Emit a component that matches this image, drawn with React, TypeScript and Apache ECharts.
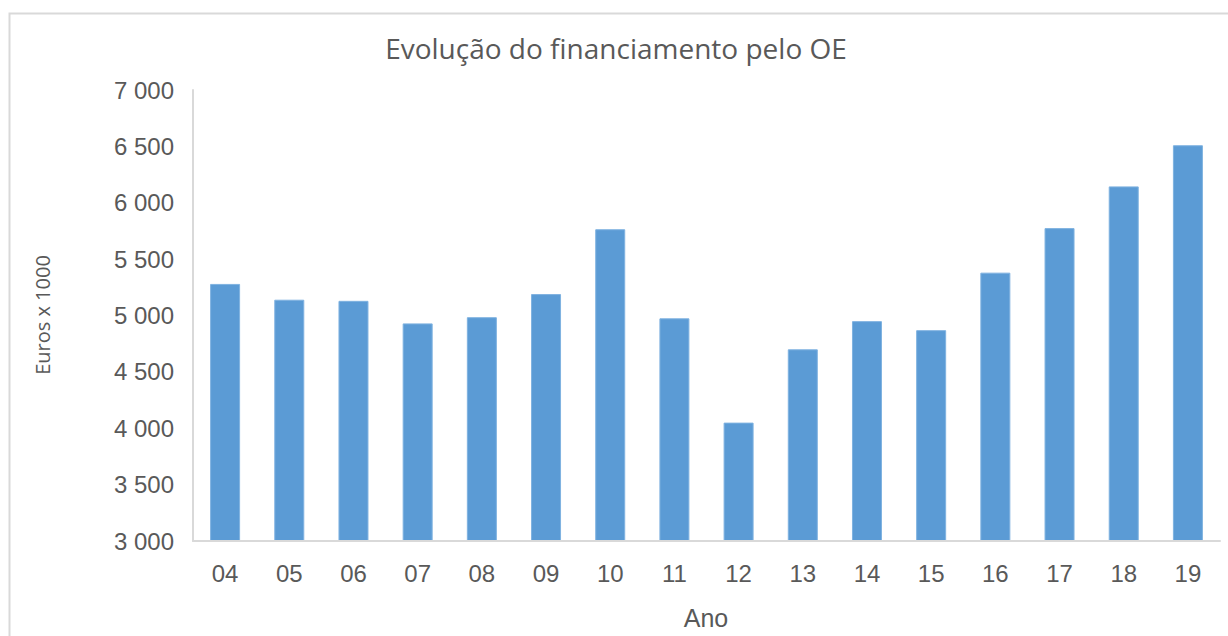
import React, { useEffect, useRef } from "react";
import * as echarts from "echarts";

const categories = ["04", "05", "06", "07", "08", "09", "10", "11", "12", "13", "14", "15", "16", "17", "18", "19"];
const values = [5280, 5140, 5130, 4930, 4985, 5190, 5765, 4975, 4050, 4700, 4950, 4870, 5380, 5775, 6145, 6510];
const title = "Evolução do financiamento pelo OE";
const xName = "Ano";
const yName = "Euros x 1000";

function fmt(v: number): string {
  const s = String(Math.round(v));
  return s.replace(/\B(?=(\d{3})+(?!\d))/g, " ");
}

export default function App() {
  const ref = useRef<HTMLDivElement>(null);
  useEffect(() => {
    if (!ref.current) return;
    const chart = echarts.init(ref.current, undefined, { renderer: "svg" });
    chart.setOption({
      animation: false,
      backgroundColor: "#ffffff",
      title: {
        text: title,
        left: 611,
        top: 29,
        textAlign: "center",
        textStyle: { fontFamily: "Open Sans", fontSize: 28, fontWeight: "normal", color: "#595959" },
      },
      grid: { left: 193, right: 8, top: 90, bottom: 95, containLabel: false },
      xAxis: {
        type: "category",
        data: categories,
        axisLine: { show: true, lineStyle: { color: "#d9d9d9", width: 2 } },
        axisTick: { show: false },
        axisLabel: { fontFamily: "Liberation Sans", fontSize: 24, color: "#595959", margin: 20 },
        z: 5,
      },
      yAxis: {
        type: "value",
        min: 3000,
        max: 7000,
        interval: 500,
        axisLine: { show: true, lineStyle: { color: "#d9d9d9", width: 2 } },
        axisTick: { show: false },
        splitLine: { show: false },
        axisLabel: { fontFamily: "Liberation Sans", fontSize: 24, color: "#595959", margin: 19, formatter: (v: number) => fmt(v) },
      },
      series: [
        {
          type: "bar",
          data: values,
          barWidth: 30,
          itemStyle: { color: "#5b9bd5", borderColor: "#7fb2e0", borderWidth: 1 },
        },
      ],
      graphic: [
        {
          type: "rect",
          shape: { x: 9.5, y: 13.5, width: 1300, height: 700 },
          style: { fill: "none", stroke: "#d9d9d9", lineWidth: 2 },
          silent: true,
        },
        {
          type: "text",
          x: 706,
          y: 618,
          style: { text: xName, fontFamily: "Liberation Sans", fontSize: 25, fill: "#595959", textAlign: "center", textVerticalAlign: "middle" },
        },
        {
          type: "text",
          x: 42,
          y: 315,
          rotation: Math.PI / 2,
          style: { text: yName, fontFamily: "Open Sans", fontSize: 20, fill: "#595959", textAlign: "center", textVerticalAlign: "middle" },
        },
      ],
    });
    return () => chart.dispose();
  }, []);
  return <div ref={ref} style={{ position: "fixed", left: 0, top: 0, width: 1228, height: 636 }} />;
}
